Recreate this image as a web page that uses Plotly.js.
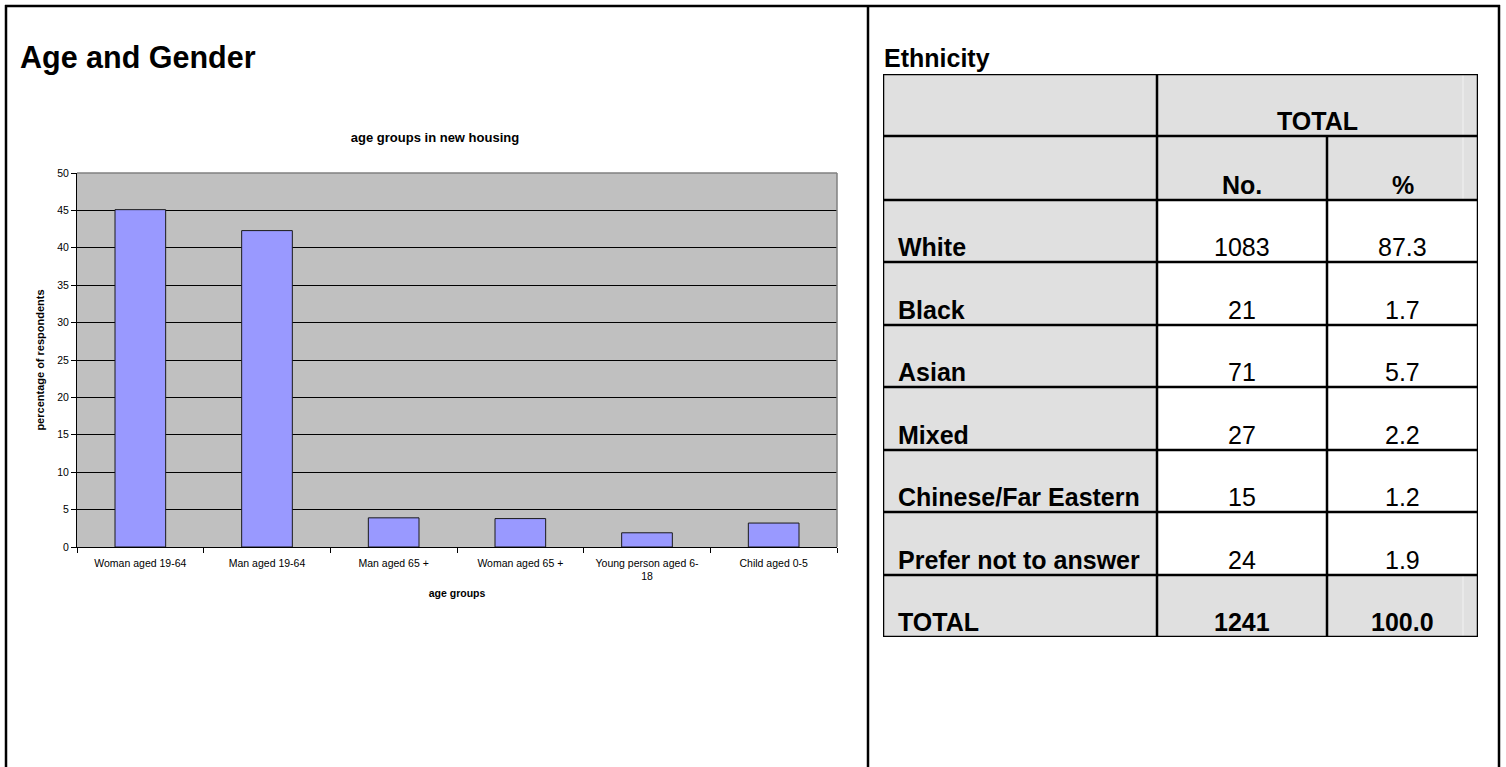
<!DOCTYPE html>
<html>
<head>
<meta charset="utf-8">
<script src="https://cdn.plot.ly/plotly-3.0.1.min.js"></script>
<style>
  html, body { margin: 0; padding: 0; background: #ffffff; }
  #chart { width: 1506px; height: 767px; }
</style>
</head>
<body>
<div id="chart"></div>
<script>
// ---------------- data ----------------
const ageGroups = ['Woman aged 19-64', 'Man aged 19-64', 'Man aged 65 +', 'Woman aged 65 +', 'Young person aged 6-18', 'Child aged 0-5'];
const ageTickText = ['Woman aged 19-64', 'Man aged 19-64', 'Man aged 65 +', 'Woman aged 65 +', 'Young person aged 6-<br>18', 'Child aged 0-5'];
const agePercent = [45.1, 42.3, 3.9, 3.8, 1.9, 3.2];
const yTickVals = [0, 5, 10, 15, 20, 25, 30, 35, 40, 45, 50];

const ethnicGroups = ['White', 'Black', 'Asian', 'Mixed', 'Chinese/Far Eastern', 'Prefer not to answer'];
const ethnicCount = [1083, 21, 71, 27, 15, 24];
const ethnicPct = ['87.3', '1.7', '5.7', '2.2', '1.2', '1.9'];
const totalLabel = 'TOTAL';
const totalCount = 1241;
const totalPct = '100.0';
const headerTop = 'TOTAL';
const headerCols = ['No.', '%'];

// ---------------- layout helpers ----------------
const W = 1506, H = 767;
const FONT = 'Liberation Sans, Arial, Helvetica, sans-serif';
const px = x => x / W;
const py = y => 1 - y / H;

// table geometry (pixel units on x2/y2 axes)
const colEdges = [883, 1157, 1327, 1478];
const rowEdges = [74, 136, 200, 262, 325, 387, 450, 512, 575, 637];
const GREY = '#e0e0e0';
const TFS = 25;

const shapes = [];
const annotations = [];

// outer frame + divider (paper)
const frameLine = { color: '#000', width: 2.5 };
shapes.push({ type: 'line', xref: 'paper', yref: 'paper', x0: px(6), x1: px(6), y0: py(5), y1: py(767), line: frameLine });
shapes.push({ type: 'line', xref: 'paper', yref: 'paper', x0: px(5), x1: px(1500), y0: py(6), y1: py(6), line: frameLine });
shapes.push({ type: 'line', xref: 'paper', yref: 'paper', x0: px(868), x1: px(868), y0: py(5), y1: py(767), line: frameLine });
shapes.push({ type: 'line', xref: 'paper', yref: 'paper', x0: px(1499), x1: px(1499), y0: py(5), y1: py(767), line: frameLine });

// grey plot frame top/right of bar chart
shapes.push({ type: 'line', xref: 'x domain', yref: 'y domain', x0: 0, x1: 1, y0: 1, y1: 1, line: { color: '#808080', width: 1.5 } });
shapes.push({ type: 'line', xref: 'x domain', yref: 'y domain', x0: 1, x1: 1, y0: 0, y1: 1, line: { color: '#808080', width: 1.5 } });

// table cell fills
function rect(x0, x1, y0, y1, fill) {
  shapes.push({ type: 'rect', xref: 'x2', yref: 'y2', x0, x1, y0, y1, fillcolor: fill, line: { width: 0 }, layer: 'below' });
}
rect(colEdges[0], colEdges[3], rowEdges[0], rowEdges[2], GREY);
const nBody = ethnicGroups.length;
for (let i = 0; i < nBody; i++) {
  const y0 = rowEdges[2 + i], y1 = rowEdges[3 + i];
  rect(colEdges[0], colEdges[1], y0, y1, GREY);
  rect(colEdges[1], colEdges[3], y0, y1, '#ffffff');
}
rect(colEdges[0], colEdges[3], rowEdges[2 + nBody], rowEdges[3 + nBody], GREY);

// faint line artefact in grey cells
const faint = { color: '#ededed', width: 1.5 };
shapes.push({ type: 'line', xref: 'x2', yref: 'y2', x0: 1463, x1: 1463, y0: rowEdges[0], y1: rowEdges[2], line: faint, layer: 'below' });
shapes.push({ type: 'line', xref: 'x2', yref: 'y2', x0: 1463, x1: 1463, y0: rowEdges[2 + nBody], y1: rowEdges[3 + nBody], line: faint, layer: 'below' });

// table grid lines
const tline = { color: '#000', width: 2.5 };
rowEdges.forEach(y => shapes.push({ type: 'line', xref: 'x2', yref: 'y2', x0: colEdges[0] - 1, x1: colEdges[3] + 1, y0: y, y1: y, line: tline }));
[colEdges[0], colEdges[1], colEdges[3]].forEach(x => shapes.push({ type: 'line', xref: 'x2', yref: 'y2', x0: x, x1: x, y0: rowEdges[0], y1: rowEdges[rowEdges.length - 1], line: tline }));
shapes.push({ type: 'line', xref: 'x2', yref: 'y2', x0: colEdges[2], x1: colEdges[2], y0: rowEdges[1], y1: rowEdges[rowEdges.length - 1], line: tline });

// table text
function cellText(text, x, xanchor, yBottom, bold) {
  annotations.push({
    xref: 'x2', yref: 'y2', x, y: yBottom - 1, yshift: -2, xanchor, yanchor: 'bottom',
    text: bold ? '<b>' + text + '</b>' : String(text), showarrow: false,
    font: { family: FONT, size: TFS, color: '#000' }
  });
}
const colMid = i => (colEdges[i] + colEdges[i + 1]) / 2;
cellText(headerTop, (colEdges[1] + colEdges[3]) / 2, 'center', rowEdges[1], true);
cellText(headerCols[0], colMid(1), 'center', rowEdges[2], true);
cellText(headerCols[1], colMid(2), 'center', rowEdges[2], true);
for (let i = 0; i < nBody; i++) {
  const yb = rowEdges[3 + i];
  cellText(ethnicGroups[i], colEdges[0] + 13, 'left', yb, true);
  cellText(ethnicCount[i], colMid(1), 'center', yb, false);
  cellText(ethnicPct[i], colMid(2), 'center', yb, false);
}
{
  const yb = rowEdges[3 + nBody];
  cellText(totalLabel, colEdges[0] + 13, 'left', yb, true);
  cellText(totalCount, colMid(1), 'center', yb, true);
  cellText(totalPct, colMid(2), 'center', yb, true);
}

// headings
annotations.push({ xref: 'paper', yref: 'paper', x: px(18), y: py(77), xanchor: 'left', yanchor: 'bottom', showarrow: false,
  text: '<b>Age and Gender</b>', font: { family: FONT, size: 30.5, color: '#000' } });
annotations.push({ xref: 'paper', yref: 'paper', x: px(882), y: py(74), xanchor: 'left', yanchor: 'bottom', showarrow: false,
  text: '<b>Ethnicity</b>', font: { family: FONT, size: 25, color: '#000' } });

// ---------------- traces ----------------
const barTrace = {
  type: 'bar', x: ageGroups, y: agePercent, xaxis: 'x', yaxis: 'y',
  marker: { color: '#9999ff', line: { color: '#1a1a1a', width: 1 } },
  hoverinfo: 'x+y'
};
const tableAnchor = {
  type: 'scatter', mode: 'markers', x: [colEdges[0]], y: [rowEdges[0]], xaxis: 'x2', yaxis: 'y2',
  marker: { opacity: 0 }, hoverinfo: 'skip', showlegend: false
};

const layout = {
  width: W, height: H,
  margin: { l: 0, r: 0, t: 0, b: 0 },
  paper_bgcolor: '#ffffff',
  plot_bgcolor: '#c0c0c0',
  showlegend: false,
  bargap: 0.6,
  font: { family: FONT, color: '#000' },
  title: {
    text: '<b>age groups in new housing</b>', font: { family: FONT, size: 13, color: '#000' },
    xref: 'paper', yref: 'paper', x: px(435), y: py(137), xanchor: 'center', yanchor: 'middle'
  },
  xaxis: {
    domain: [px(77), px(837)], type: 'category',
    tickvals: ageGroups, ticktext: ageTickText,
    showline: true, linecolor: '#000', linewidth: 1,
    ticks: 'outside', ticklen: 5, tickcolor: '#000', tickson: 'boundaries',
    ticklabelstandoff: 6,
    tickfont: { family: FONT, size: 10.5, color: '#000' },
    showgrid: false, zeroline: false,
    title: { text: '<b>age groups</b>', font: { family: FONT, size: 10.5, color: '#000' }, standoff: 8 }
  },
  yaxis: {
    domain: [py(547), py(173)], range: [0, 50], autorange: false,
    tickvals: yTickVals,
    showline: true, linecolor: '#000', linewidth: 1,
    ticks: 'outside', ticklen: 5, tickcolor: '#000',
    tickfont: { family: FONT, size: 10.5, color: '#000' },
    showgrid: true, gridcolor: '#000', gridwidth: 1, zeroline: false,
    title: { text: '<b>percentage of respondents</b>', font: { family: FONT, size: 11, color: '#000' }, standoff: 10 }
  },
  xaxis2: { domain: [px(colEdges[0]), px(colEdges[3])], range: [colEdges[0], colEdges[3]], visible: false, fixedrange: true },
  yaxis2: { domain: [py(rowEdges[9]), py(rowEdges[0])], range: [rowEdges[9], rowEdges[0]], visible: false, fixedrange: true },
  shapes, annotations
};

Plotly.newPlot('chart', [barTrace, tableAnchor], layout, { displayModeBar: false });
</script>
</body>
</html>
